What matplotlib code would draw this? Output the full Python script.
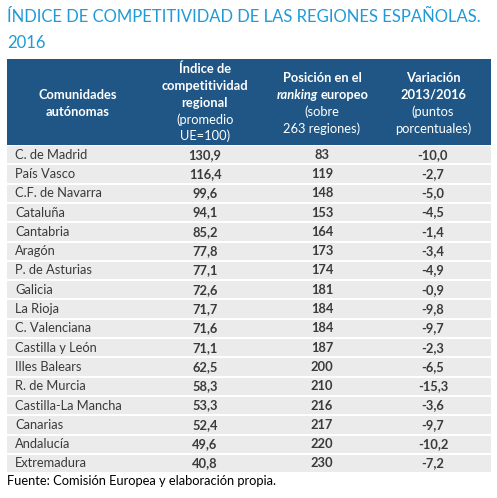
import matplotlib
matplotlib.use("Agg")
import matplotlib.pyplot as plt
from matplotlib.patches import Rectangle

plt.rcParams['font.family'] = ['Lato', 'DejaVu Sans']

title_lines = ["ÍNDICE DE COMPETITIVIDAD DE LAS REGIONES ESPAÑOLAS.", "2016"]
regions = ["C. de Madrid", "País Vasco", "C.F. de Navarra", "Cataluña", "Cantabria",
           "Aragón", "P. de Asturias", "Galicia", "La Rioja", "C. Valenciana",
           "Castilla y León", "Illes Balears", "R. de Murcia", "Castilla-La Mancha",
           "Canarias", "Andalucía", "Extremadura"]
indice = ["130,9", "116,4", "99,6", "94,1", "85,2", "77,8", "77,1", "72,6", "71,7",
          "71,6", "71,1", "62,5", "58,3", "53,3", "52,4", "49,6", "40,8"]
posicion = [83, 119, 148, 153, 164, 173, 174, 181, 184, 184, 187, 200, 210, 216, 217, 220, 230]
variacion = ["-10,0", "-2,7", "-5,0", "-4,5", "-1,4", "-3,4", "-4,9", "-0,9", "-9,8",
             "-9,7", "-2,3", "-6,5", "-15,3", "-3,6", "-9,7", "-10,2", "-7,2"]
source = "Fuente: Comisión Europea y elaboración propia."

W, H = 497, 498
fig = plt.figure(figsize=(W / 100, H / 100), dpi=100)
ax = fig.add_axes([0, 0, 1, 1])
ax.set_xlim(0, W)
ax.set_ylim(H, 0)
ax.axis('off')

title_color = '#1f9bd7'
hdr_color = '#1f5685'
row_color = '#ebebeb'
txt_color = '#3a3a3a'

ax.text(7, 17, title_lines[0], fontsize=12.0, color=title_color, va='center', ha='left')
ax.text(7, 43, title_lines[1], fontsize=12.0, color=title_color, va='center', ha='left')

# header
x0, x1 = 7, 491
hy0, hy1 = 59, 145
ax.add_patch(Rectangle((x0, hy0), x1 - x0, hy1 - hy0, color=hdr_color, lw=0))
fs_h = 9.3
lh = 16.8
def header(cx, lines, top):
    for i, (t, bold, style) in enumerate(lines):
        ax.text(cx, top + i * lh, t, fontsize=fs_h, color='white', ha='center', va='center',
                fontweight='bold' if bold else 'normal', style=style)

header(78, [("Comunidades", True, 'normal'), ("autónomas", True, 'normal')], 95)
header(205, [("Índice de", True, 'normal'), ("competitividad", True, 'normal'),
             ("regional", True, 'normal'), ("(promedio", False, 'normal'),
             ("UE=100)", False, 'normal')], 69)
cx3 = 322
ax.text(cx3, 78, "Posición en el", fontsize=fs_h, color='white', ha='center', va='center', fontweight='bold')
ax.text(cx3 - 25, 95, "ranking", fontsize=fs_h, color='white', ha='center', va='center',
        fontweight='bold', style='italic')
ax.text(cx3 + 23, 95, "europeo", fontsize=fs_h, color='white', ha='center', va='center', fontweight='bold')
ax.text(cx3, 112, "(sobre", fontsize=fs_h, color='white', ha='center', va='center')
ax.text(cx3, 129, "263 regiones)", fontsize=fs_h, color='white', ha='center', va='center')
header(433, [("Variación", True, 'normal'), ("2013/2016", True, 'normal'),
             ("(puntos", False, 'normal'), ("porcentuales)", False, 'normal')], 78)

# rows
ry0 = 145
rh = 19.3
fs = 9.3
for i, (r, a, p, v) in enumerate(zip(regions, indice, posicion, variacion)):
    y = ry0 + i * rh
    ax.add_patch(Rectangle((x0, y + 1), x1 - x0, rh - 2, color=row_color, lw=0))
    cy = y + rh / 2
    ax.text(15, cy, r, fontsize=fs, color=txt_color, ha='left', va='center')
    ax.text(205, cy, a, fontsize=fs, color=txt_color, ha='center', va='center', fontweight='bold')
    ax.text(322, cy, str(p), fontsize=fs, color=txt_color, ha='center', va='center', fontweight='bold')
    ax.text(433, cy, v, fontsize=fs, color=txt_color, ha='center', va='center', fontweight='bold')

ax.text(7, 481, source, fontsize=9.3, color='black', ha='left', va='center')

fig.savefig('out.png', dpi=100)
